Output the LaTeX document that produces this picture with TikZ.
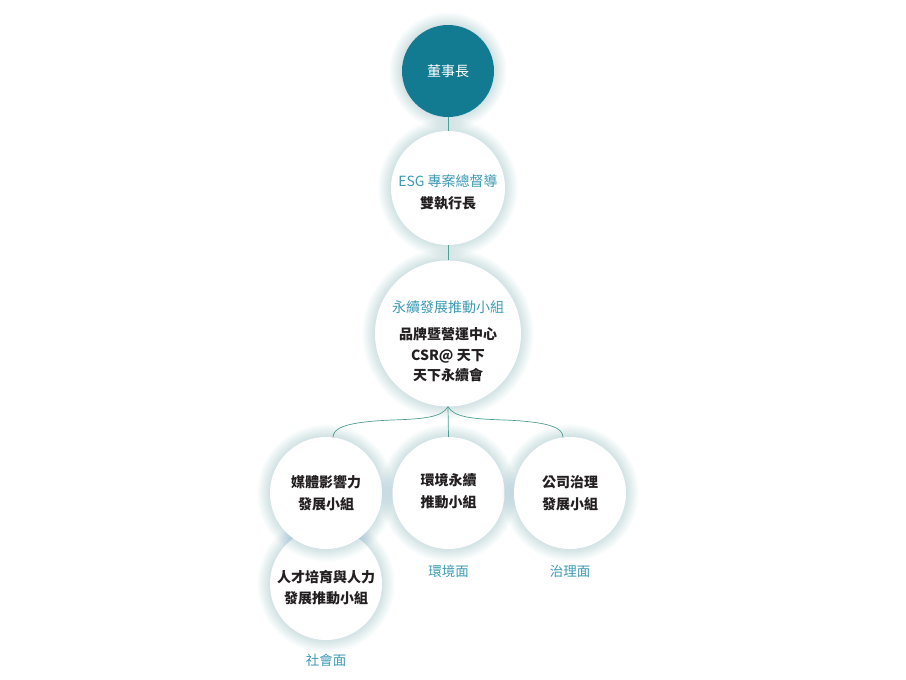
\documentclass[tikz,border=0pt]{standalone}
\usepackage{fontspec}
\setmainfont{Noto Sans CJK TC}
\usetikzlibrary{calc}
\definecolor{darkteal}{HTML}{137B91}
\definecolor{titleteal}{HTML}{3D9BB3}
\definecolor{linecol}{HTML}{4E9E92}
\definecolor{glowcol}{HTML}{3A95AA}
\definecolor{txt}{HTML}{231F20}
\tikzset{
  orgcircle/.style={circle, fill=white, inner sep=0pt, align=center, font=\fontsize{14}{20}\selectfont\color{txt}},
  topcircle/.style={circle, fill=darkteal, inner sep=0pt, align=center, font=\fontsize{14}{20}\selectfont\color{white}},
  conn/.style={draw=linecol, line width=0.7pt},
  facet/.style={font=\fontsize{13.5}{16}\selectfont\color{titleteal}},
  ttl/.style={color=titleteal}
}
\newcommand{\glowat}[2]{%
  \foreach \i in {1,...,14} {\fill[glowcol, opacity=0.017] (#1) circle ({#2+\i*0.9});}%
}
\begin{document}
\begin{tikzpicture}[x=1pt,y=-1pt]
\useasboundingbox (0,0) rectangle (906,680);
\fill[white] (0,0) rectangle (906,680);
% glows and circles
\glowat{448,71}{46}
\node[topcircle, minimum size=92pt] (chair) at (448,71) {董事長};
\glowat{448,188}{57}
\node[orgcircle, minimum size=114pt] (esg) at (448,188) {};
\glowat{448,333.5}{73}
\node[orgcircle, minimum size=146pt] (mid) at (448,333.5) {};
\glowat{326,584}{56}
\node[orgcircle, minimum size=112pt] (talent) at (326,584) {};
\glowat{326,493}{56}
\node[orgcircle, minimum size=112pt] (media) at (326,493) {};
\glowat{448.5,493}{56}
\node[orgcircle, minimum size=112pt] (env) at (448.5,493) {};
\glowat{570,493}{56}
\node[orgcircle, minimum size=112pt] (gov) at (570,493) {};
% texts
\node[font=\fontsize{14}{21}\selectfont, align=center, anchor=center] (esgt) at (448,192) {\textcolor{titleteal}{ESG 專案總督導}\\[1pt]\textcolor{txt}{\bfseries 雙執行長}};
\node[font=\fontsize{14}{20.5}\selectfont, align=center, anchor=center] (midt) at (448,341.5) {\textcolor{titleteal}{永續發展推動小組}\\[7pt]\textcolor{txt}{\bfseries 品牌暨營運中心}\\\textcolor{txt}{\bfseries CSR@ 天下}\\\textcolor{txt}{\bfseries 天下永續會}};
\node[font=\fontsize{14}{21.5}\selectfont\bfseries\color{txt}, align=center] (mediat) at (326,493) {媒體影響力\\發展小組};
\node[font=\fontsize{14}{21.5}\selectfont\bfseries\color{txt}, align=center] (envt) at (448.5,491) {環境永續\\推動小組};
\node[font=\fontsize{14}{21.5}\selectfont\bfseries\color{txt}, align=center] (govt) at (570,493) {公司治理\\發展小組};
\node[font=\fontsize{14}{21.5}\selectfont\bfseries\color{txt}, align=center] (talentt) at (326,587.5) {人才培育與人力\\發展推動小組};
\node[facet] (soc) at (326,660) {社會面};
\node[facet] (envf) at (448.5,571) {環境面};
\node[facet] (govf) at (570,571) {治理面};
% connectors
\draw[conn] (chair.south) -- (esg.north);
\draw[conn] (esg.south) -- (mid.north);
\draw[conn] (mid.south) -- (env.north);
\coordinate (lm) at (392,420);
\coordinate (rm) at (505,420);
\draw[conn] (mid.south) .. controls (442,417) and (425,419) .. (lm) .. controls (345,422) and (333,428) .. (333,437.5);
\draw[conn] (mid.south) .. controls (454,417) and (471,419) .. (rm) .. controls (551,422) and (563,428) .. (563,437.5);
\end{tikzpicture}
\end{document}
